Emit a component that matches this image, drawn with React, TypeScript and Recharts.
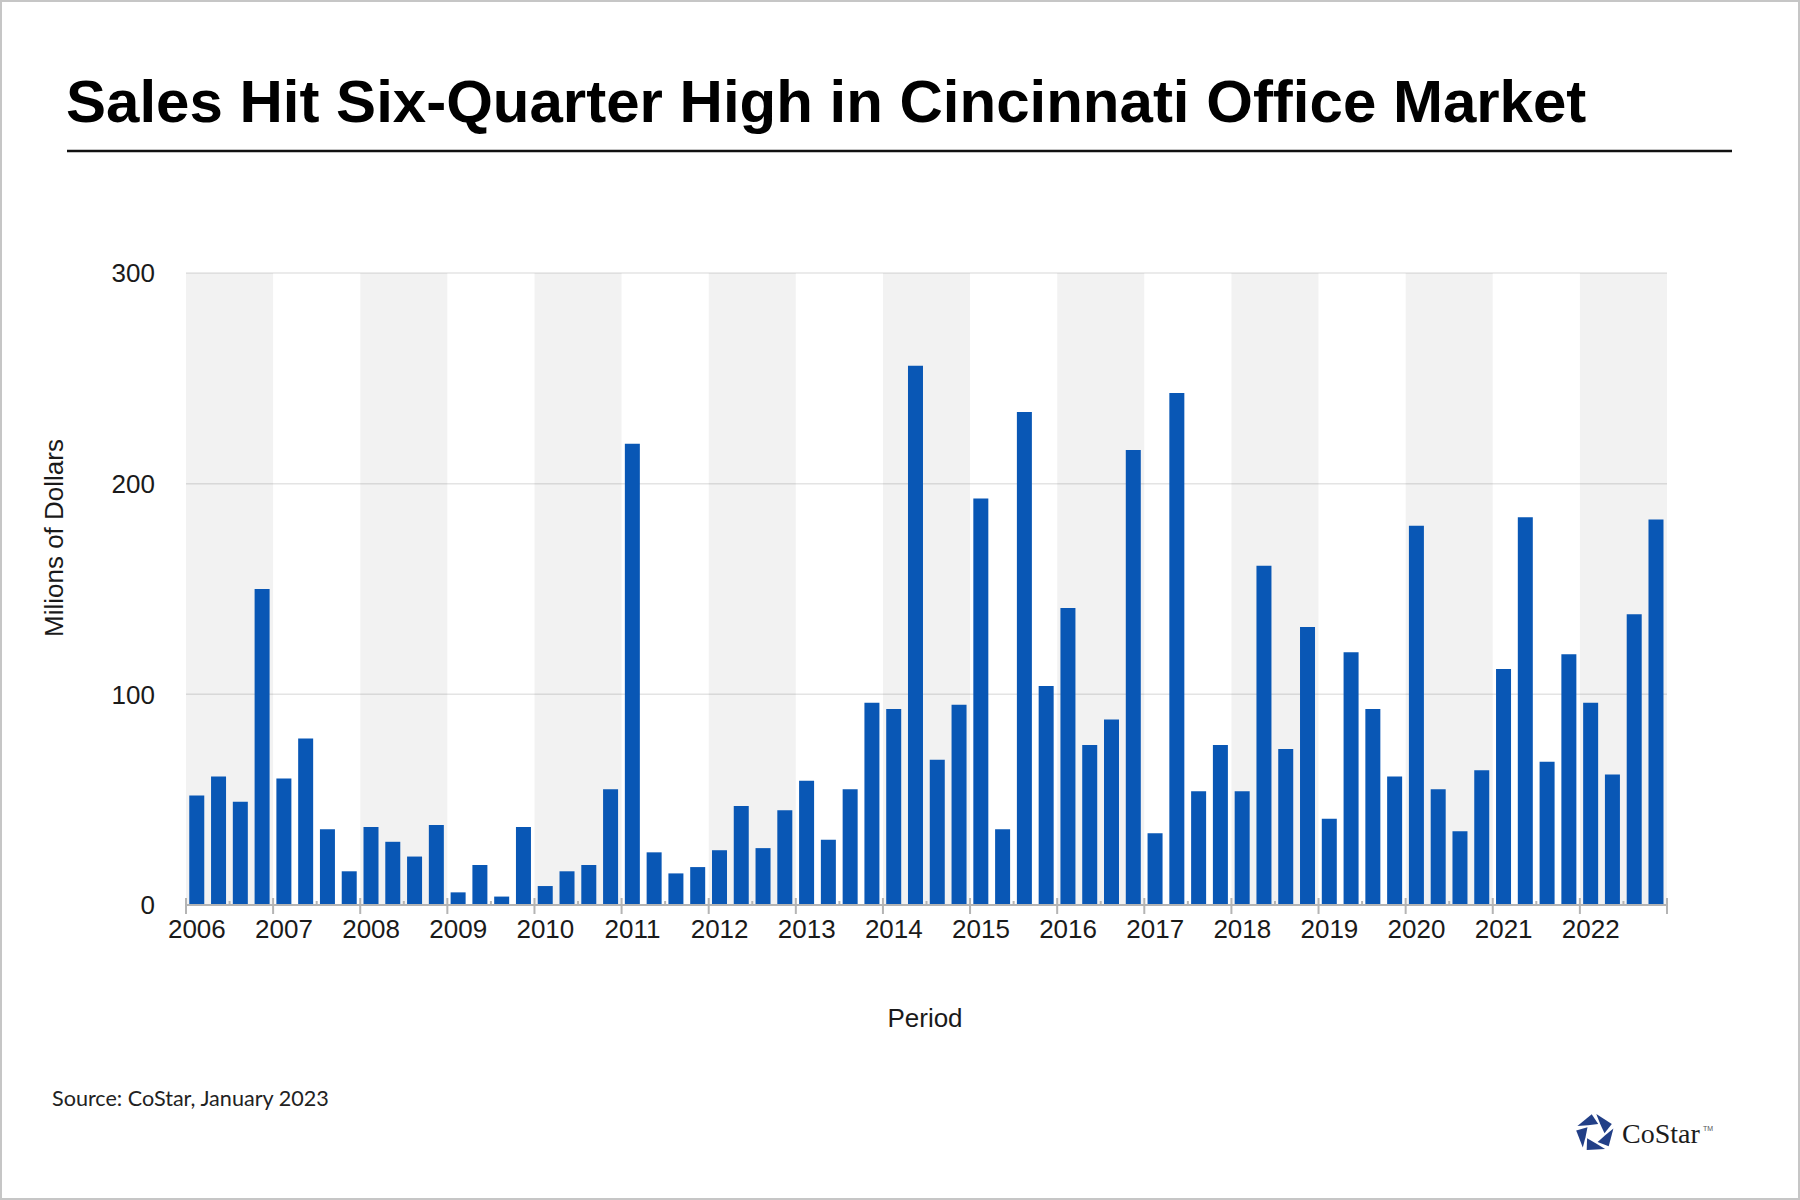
import {BarChart, Bar, XAxis, YAxis, CartesianGrid, ReferenceArea} from "recharts";

const years = [2006, 2007, 2008, 2009, 2010, 2011, 2012, 2013, 2014, 2015, 2016, 2017, 2018, 2019, 2020, 2021, 2022];
const quarters = ["Q1", "Q2", "Q3", "Q4"];

// quarterly office sales volume, millions of dollars (2006 Q1 .. 2022 Q4)
const salesMillions = [
    52, 61, 49, 150,
    60, 79, 36, 16,
    37, 30, 23, 38,
    6, 19, 4, 37,
    9, 16, 19, 55,
    219, 25, 15, 18,
    26, 47, 27, 45,
    59, 31, 55, 96,
    93, 256, 69, 95,
    193, 36, 234, 104,
    141, 76, 88, 216,
    34, 243, 54, 76,
    54, 161, 74, 132,
    41, 120, 93, 61,
    180, 55, 35, 64,
    112, 184, 68, 119,
    96, 62, 138, 183,
];

const yTicks = [0, 100, 200, 300];

const data = salesMillions.map((v, i) => ({
    period: `${years[Math.floor(i / 4)]} ${quarters[i % 4]}`,
    sales: v,
}));

const FONT = "'Liberation Sans', Arial, sans-serif";
const AXIS_GRAY = "#b4b4b4";

function YearTick(props: any) {
    const {x, y, payload, index} = props;
    const idx = payload?.index ?? index;
    const half = payload?.offset ?? 1481 / 68 / 2;
    const parts: any[] = [];
    if (idx % 4 === 0) {
        parts.push(<line key="t" x1={x - half} x2={x - half} y1={y - 7} y2={y + 9} stroke={AXIS_GRAY} strokeWidth={2}/>);
        parts.push(
            <text key="l" x={x} y={y + 33} textAnchor="middle" fontSize={26} fontFamily={FONT} fill="#1a1a1a">
                {String(payload.value).slice(0, 4)}
            </text>
        );
    }
    if (idx % 4 === 2) {
        parts.push(<line key="m" x1={x - half} x2={x - half} y1={y - 4} y2={y} stroke={AXIS_GRAY} strokeWidth={2}/>);
    }
    if (idx === salesMillions.length - 1) {
        parts.push(<line key="e" x1={x + half} x2={x + half} y1={y - 7} y2={y + 9} stroke={AXIS_GRAY} strokeWidth={2}/>);
    }
    return <g>{parts}</g>;
}

function Logo() {
    const cx = 1595, cy = 1133, R = 19;
    const pt = (r: number, deg: number) => {
        const a = (deg * Math.PI) / 180;
        return `${(cx + r * Math.cos(a)).toFixed(1)},${(cy + r * Math.sin(a)).toFixed(1)}`;
    };
    return (
        <g>
            {[0, 1, 2, 3, 4].map(k => {
                const t = -90 + 72 * k;
                return (
                    <polygon key={k} fill="#223f87"
                             points={[pt(R, t + 4), pt(R, t + 62), pt(R * 0.5, t + 92), pt(R * 0.55, t + 30)].join(" ")}/>
                );
            })}
            <text x={1622} y={1143} fontSize={28} fontFamily="'Liberation Serif', 'Times New Roman', serif" fill="#1c1c1c">CoStar</text>
            <text x={1703} y={1131} fontSize={7} fontFamily={FONT} fill="#555">TM</text>
        </g>
    );
}

export default function App() {
    return (
        <div style={{position: "absolute", left: 0, top: 0, width: 1800, height: 1200, background: "#fff"}}>
            <BarChart width={1800} height={1200} data={data}
                      margin={{top: 273, right: 133, bottom: 235, left: 126}}
                      barCategoryGap="15%">
                <CartesianGrid vertical={false} stroke="#e4e4e4" strokeWidth={1.5}/>
                {/* translucent year bands so the grid stays visible through them */}
                {years.map((yr, i) => i % 2 === 0 ? (
                    <ReferenceArea key={yr} x1={`${yr} Q1`} x2={`${yr} Q4`} y1={0} y2={300}
                                   fill="#000" fillOpacity={0.052} stroke="none" ifOverflow="visible"/>
                ) : null)}
                <XAxis dataKey="period" interval={0} height={60} tickSize={0} tickMargin={0}
                       tickLine={false} axisLine={{stroke: AXIS_GRAY, strokeWidth: 2}}
                       tick={<YearTick/>}/>
                <YAxis width={60} domain={[0, 300]} ticks={yTicks} tickSize={0} tickMargin={31}
                       axisLine={false} tickLine={false}
                       tick={{fontSize: 26, fontFamily: FONT, fill: "#1a1a1a"}}/>
                <Bar dataKey="sales" fill="#0957b5" isAnimationActive={false}/>
            </BarChart>
            <svg width={1800} height={1200} style={{position: "absolute", left: 0, top: 0, pointerEvents: "none"}}>
                <rect x={1} y={1} width={1798} height={1198} fill="none" stroke="#c6c6c6" strokeWidth={2}/>
                <text x={66} y={122} fontSize={60} fontWeight="bold" fontFamily={FONT} fill="#000">
                    Sales Hit Six-Quarter High in Cincinnati Office Market
                </text>
                <line x1={67} x2={1732} y1={151} y2={151} stroke="#111" strokeWidth={2.5}/>
                <text x={63} y={538} transform="rotate(-90 63 538)" textAnchor="middle" fontSize={26}
                      fontFamily={FONT} fill="#1a1a1a">Milions of Dollars</text>
                <text x={925} y={1027} textAnchor="middle" fontSize={26} fontFamily={FONT} fill="#1a1a1a">Period</text>
                <text x={52} y={1106} fontSize={21.6} fontFamily="Lato, 'Open Sans', sans-serif" fill="#222">
                    Source: CoStar, January 2023
                </text>
                <Logo/>
            </svg>
        </div>
    );
}
